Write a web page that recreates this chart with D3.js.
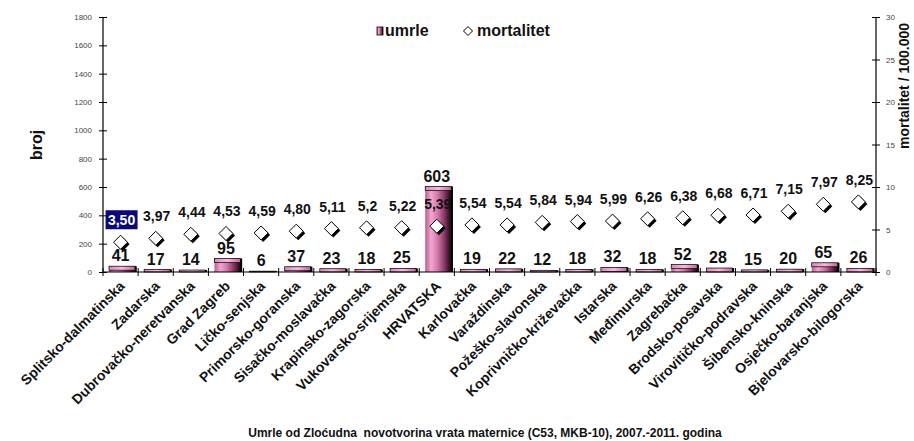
<!DOCTYPE html>
<html><head><meta charset="utf-8">
<script src="https://cdn.jsdelivr.net/npm/d3@7/dist/d3.min.js"></script>
<style>
html,body{margin:0;padding:0;background:#fff;}
svg{display:block;font-family:Arial,"Liberation Sans",sans-serif;}
</style></head>
<body>
<svg id="c" width="914" height="441"></svg>
<script>
const categories = ["Splitsko-dalmatinska","Zadarska","Dubrovačko-neretvanska","Grad Zagreb","Ličko-senjska","Primorsko-goranska","Sisačko-moslavačka","Krapinsko-zagorska","Vukovarsko-srijemska","HRVATSKA","Karlovačka","Varaždinska","Požeško-slavonska","Koprivničko-križevačka","Istarska","Međimurska","Zagrebačka","Brodsko-posavska","Virovitičko-podravska","Šibensko-kninska","Osječko-baranjska","Bjelovarsko-bilogorska"];
const umrle = [41,17,14,95,6,37,23,18,25,603,19,22,12,18,32,18,52,28,15,20,65,26];
const mortalitet = [3.50,3.97,4.44,4.53,4.59,4.80,5.11,5.2,5.22,5.39,5.54,5.54,5.84,5.94,5.99,6.26,6.38,6.68,6.71,7.15,7.97,8.25];
const mortalitetLabels = ["3,50","3,97","4,44","4,53","4,59","4,80","5,11","5,2","5,22","5,39","5,54","5,54","5,84","5,94","5,99","6,26","6,38","6,68","6,71","7,15","7,97","8,25"];
const leftTicks = [0,200,400,600,800,1000,1200,1400,1600,1800];
const rightTicks = [0,5,10,15,20,25,30];
const highlighted = "Splitsko-dalmatinska";
const seriesNames = ["umrle","mortalitet"];
const yTitle = "broj";
const y2Title = "mortalitet / 100.000";
const caption = "Umrle od Zloćudna  novotvorina vrata maternice (C53, MKB-10), 2007.-2011. godina";

const svg = d3.select("#c");
const L = 103, R = 876, T = 17, B = 272;
const x = d3.scaleBand().domain(categories).range([L, R]).padding(0);
const y = d3.scaleLinear().domain([0, 1800]).range([B, T]);
const y2 = d3.scaleLinear().domain([0, 30]).range([B, T]);

const defs = svg.append("defs");
const g = defs.append("linearGradient").attr("id","barGrad").attr("x1","0").attr("x2","1").attr("y1","0").attr("y2","0");
[["0%","#b4608c"],["22%","#f2a6cf"],["45%","#d57aad"],["75%","#7a2e58"],["92%","#2a0c1c"],["100%","#000"]]
  .forEach(([o,c]) => g.append("stop").attr("offset",o).attr("stop-color",c));
const gt = defs.append("linearGradient").attr("id","topGrad").attr("x1","0").attr("x2","1");
[["0%","#d888b4"],["50%","#f6bcdc"],["100%","#c06898"]].forEach(([o,c]) => gt.append("stop").attr("offset",o).attr("stop-color",c));

// left axis
const ax = svg.append("g").attr("transform",`translate(${L},0)`)
  .call(d3.axisLeft(y).tickValues(leftTicks).tickFormat(d3.format("d")).tickSize(4).tickPadding(7));
ax.select(".domain").attr("stroke","#000").attr("stroke-width",1.2).attr("d",`M0,${B}V${T}`);
ax.selectAll(".tick line").attr("x1",4).attr("stroke","#000");
ax.selectAll(".tick text").attr("font-size","8px").attr("fill","#444").attr("font-family","Arial,'Liberation Sans',sans-serif");

// right axis
const ax2 = svg.append("g").attr("transform",`translate(${R},0)`)
  .call(d3.axisRight(y2).tickValues(rightTicks).tickFormat(d3.format("d")).tickSize(4).tickPadding(6));
ax2.select(".domain").attr("stroke","#000").attr("stroke-width",1.2).attr("d",`M0,${B}V${T}`);
ax2.selectAll(".tick line").attr("x1",-4).attr("stroke","#000");
ax2.selectAll(".tick text").attr("font-size","8px").attr("fill","#444").attr("font-family","Arial,'Liberation Sans',sans-serif");

// bars
const bw = 27;
const bars = svg.append("g");
categories.forEach((c, i) => {
  const x0 = x(c) + 6, top = y(umrle[i]), h = B - top;
  bars.append("rect").attr("x", x0).attr("y", top).attr("width", bw).attr("height", h).attr("fill","url(#barGrad)");
  const capH = Math.min(4, h);
  bars.append("rect").attr("x", x0).attr("y", top).attr("width", bw - 1).attr("height", capH)
    .attr("fill","url(#topGrad)").attr("stroke","#000").attr("stroke-width",0.7);
  bars.append("path").attr("d",`M${x0+bw},${top}V${B}`).attr("stroke","#000").attr("stroke-width",1.5);
});

// x axis
svg.append("line").attr("x1",L).attr("x2",R).attr("y1",B).attr("y2",B).attr("stroke","#000").attr("stroke-width",1.2);
const bounds = categories.map(c => x(c)).concat([x.range()[1]]);
svg.append("g").selectAll("line").data(bounds).join("line")
  .attr("x1",d=>d).attr("x2",d=>d).attr("y1",B-4).attr("y2",B+4).attr("stroke","#000");

// x labels
svg.append("g").selectAll("text").data(categories).join("text")
  .attr("transform", d => `translate(${x(d) + x.bandwidth()/2 + 5},${B + 15}) rotate(-45)`)
  .attr("text-anchor","end").attr("font-size","14px").attr("font-weight","bold").attr("fill","#111")
  .text(d => d);

// diamonds
const dg = svg.append("g");
const ds = 7;
categories.forEach((c, i) => {
  const cx = x(c) + x.bandwidth()/2, cy = y2(mortalitet[i]);
  const dpath = (ox, oy) => `M${cx+ox},${cy-ds+oy}L${cx+ds+ox},${cy+oy}L${cx+ox},${cy+ds+oy}L${cx-ds+ox},${cy+oy}Z`;
  dg.append("path").attr("d", dpath(2,2)).attr("fill","#000");
  dg.append("path").attr("d", dpath(0,0)).attr("fill","#fff").attr("stroke","#000").attr("stroke-width",1);
});

// count labels
svg.append("g").selectAll("text").data(categories).join("text")
  .attr("x", d => x(d) + x.bandwidth()/2)
  .attr("y", (d,i) => y(umrle[i]) - 5)
  .attr("text-anchor","middle").attr("font-size","16px").attr("font-weight","bold").attr("fill","#111")
  .text((d,i) => umrle[i]);

// mortality labels
const ml = svg.append("g");
categories.forEach((c, i) => {
  const cx = x(c) + x.bandwidth()/2, cy = y2(mortalitet[i]) - 17;
  if (c === highlighted) {
    ml.append("rect").attr("x", cx - 15).attr("y", cy - 15).attr("width", 32).attr("height", 19).attr("fill","#0a0a78");
  }
  ml.append("text").attr("x", cx + 1).attr("y", cy).attr("text-anchor","middle")
    .attr("font-size","14px").attr("font-weight","bold")
    .attr("fill", c === highlighted ? "#fff" : "#111").text(mortalitetLabels[i]);
});

// legend
const lg = svg.append("g");
lg.append("rect").attr("x",377).attr("y",27).attr("width",6).attr("height",8).attr("fill","url(#barGrad)").attr("stroke","#000").attr("stroke-width",0.8);
lg.append("text").attr("x",385).attr("y",36).attr("font-size","16px").attr("font-weight","bold").attr("fill","#111").text(seriesNames[0]);
lg.append("path").attr("d","M468,26.5L472.5,31L468,35.5L463.5,31Z").attr("fill","#fff").attr("stroke","#000").attr("stroke-width",1);
lg.append("text").attr("x",477).attr("y",36).attr("font-size","16px").attr("font-weight","bold").attr("fill","#111").text(seriesNames[1]);

// axis titles
svg.append("text").attr("transform","translate(42,145) rotate(-90)").attr("text-anchor","middle")
  .attr("font-size","16px").attr("font-weight","bold").attr("fill","#111").text(yTitle);
svg.append("text").attr("transform","translate(909,86) rotate(-90)").attr("text-anchor","middle")
  .attr("font-size","14px").attr("font-weight","bold").attr("fill","#111").text(y2Title);

// caption
svg.append("text").attr("x",485).attr("y",437).attr("text-anchor","middle")
  .attr("font-size","12px").attr("font-weight","bold").attr("fill","#111").attr("xml:space","preserve").style("white-space","pre").text(caption);
</script>
</body></html>
